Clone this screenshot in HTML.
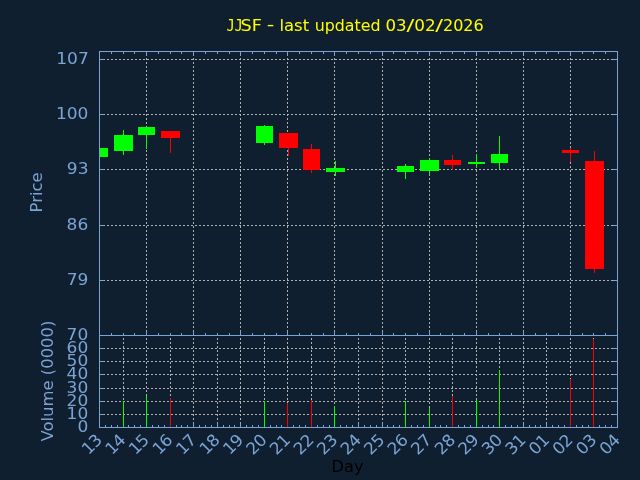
<!DOCTYPE html>
<html lang="en"><head><meta charset="utf-8"><title>JJSF - last updated 03/02/2026</title>
<style>html,body{margin:0;padding:0;background:#101f30;overflow:hidden}svg{display:block}text{font-family:"DejaVu Sans", "Liberation Sans", sans-serif;font-size:16.4px}</style></head><body>
<svg width="640" height="480" viewBox="0 0 640 480">
<rect x="0" y="0" width="640" height="480" fill="#101f30"/>
<g stroke="#b0b0b0" stroke-width="1" stroke-dasharray="2 2" shape-rendering="crispEdges" fill="none">
<line x1="99" y1="59.5" x2="617.5" y2="59.5"/>
<line x1="99" y1="114.5" x2="617.5" y2="114.5"/>
<line x1="99" y1="169.5" x2="617.5" y2="169.5"/>
<line x1="99" y1="225.5" x2="617.5" y2="225.5"/>
<line x1="99" y1="280.5" x2="617.5" y2="280.5"/>
<line x1="99" y1="348.5" x2="617.5" y2="348.5"/>
<line x1="99" y1="361.5" x2="617.5" y2="361.5"/>
<line x1="99" y1="374.5" x2="617.5" y2="374.5"/>
<line x1="99" y1="388.5" x2="617.5" y2="388.5"/>
<line x1="99" y1="401.5" x2="617.5" y2="401.5"/>
<line x1="99" y1="414.5" x2="617.5" y2="414.5"/>
<line x1="146.5" y1="336" x2="146.5" y2="51.5"/>
<line x1="193.5" y1="336" x2="193.5" y2="51.5"/>
<line x1="240.5" y1="336" x2="240.5" y2="51.5"/>
<line x1="287.5" y1="336" x2="287.5" y2="51.5"/>
<line x1="334.5" y1="336" x2="334.5" y2="51.5"/>
<line x1="382.5" y1="336" x2="382.5" y2="51.5"/>
<line x1="429.5" y1="336" x2="429.5" y2="51.5"/>
<line x1="476.5" y1="336" x2="476.5" y2="51.5"/>
<line x1="523.5" y1="336" x2="523.5" y2="51.5"/>
<line x1="570.5" y1="336" x2="570.5" y2="51.5"/>
<line x1="123.5" y1="428" x2="123.5" y2="335.5"/>
<line x1="146.5" y1="428" x2="146.5" y2="335.5"/>
<line x1="170.5" y1="428" x2="170.5" y2="335.5"/>
<line x1="193.5" y1="428" x2="193.5" y2="335.5"/>
<line x1="217.5" y1="428" x2="217.5" y2="335.5"/>
<line x1="240.5" y1="428" x2="240.5" y2="335.5"/>
<line x1="264.5" y1="428" x2="264.5" y2="335.5"/>
<line x1="287.5" y1="428" x2="287.5" y2="335.5"/>
<line x1="311.5" y1="428" x2="311.5" y2="335.5"/>
<line x1="334.5" y1="428" x2="334.5" y2="335.5"/>
<line x1="358.5" y1="428" x2="358.5" y2="335.5"/>
<line x1="382.5" y1="428" x2="382.5" y2="335.5"/>
<line x1="405.5" y1="428" x2="405.5" y2="335.5"/>
<line x1="429.5" y1="428" x2="429.5" y2="335.5"/>
<line x1="452.5" y1="428" x2="452.5" y2="335.5"/>
<line x1="476.5" y1="428" x2="476.5" y2="335.5"/>
<line x1="499.5" y1="428" x2="499.5" y2="335.5"/>
<line x1="523.5" y1="428" x2="523.5" y2="335.5"/>
<line x1="546.5" y1="428" x2="546.5" y2="335.5"/>
<line x1="570.5" y1="428" x2="570.5" y2="335.5"/>
<line x1="593.5" y1="428" x2="593.5" y2="335.5"/>
</g>
<g shape-rendering="crispEdges">
<rect x="100" y="148" width="8" height="9" fill="#00ff00"/>
<rect x="123" y="130" width="1" height="25" fill="#00ff00"/>
<rect x="114" y="135" width="19" height="16" fill="#00ff00"/>
<rect x="146" y="127" width="1" height="22" fill="#00ff00"/>
<rect x="138" y="127" width="17" height="8" fill="#00ff00"/>
<rect x="170" y="131" width="1" height="22" fill="#ff0000"/>
<rect x="161" y="131" width="19" height="7" fill="#ff0000"/>
<rect x="264" y="125" width="1" height="20" fill="#00ff00"/>
<rect x="256" y="126" width="17" height="17" fill="#00ff00"/>
<rect x="288" y="133" width="1" height="23" fill="#ff0000"/>
<rect x="279" y="133" width="19" height="15" fill="#ff0000"/>
<rect x="311" y="144" width="1" height="29" fill="#ff0000"/>
<rect x="303" y="149" width="17" height="21" fill="#ff0000"/>
<rect x="335" y="161" width="1" height="15" fill="#00ff00"/>
<rect x="326" y="168" width="19" height="4" fill="#00ff00"/>
<rect x="405" y="164" width="1" height="15" fill="#00ff00"/>
<rect x="397" y="166" width="17" height="6" fill="#00ff00"/>
<rect x="429" y="158" width="1" height="16" fill="#00ff00"/>
<rect x="420" y="160" width="19" height="11" fill="#00ff00"/>
<rect x="452" y="155" width="1" height="15" fill="#ff0000"/>
<rect x="444" y="160" width="17" height="5" fill="#ff0000"/>
<rect x="476" y="154" width="1" height="14" fill="#00ff00"/>
<rect x="468" y="162" width="17" height="2" fill="#00ff00"/>
<rect x="499" y="136" width="1" height="33" fill="#00ff00"/>
<rect x="491" y="154" width="17" height="9" fill="#00ff00"/>
<rect x="570" y="148" width="1" height="14" fill="#ff0000"/>
<rect x="562" y="150" width="17" height="3" fill="#ff0000"/>
<rect x="594" y="151" width="1" height="122" fill="#ff0000"/>
<rect x="585" y="161" width="19" height="108" fill="#ff0000"/>
</g>
<g stroke="#79a4d4" stroke-width="1" shape-rendering="crispEdges" fill="none">
<line x1="99.5" y1="59.5" x2="104" y2="59.5"/>
<line x1="613" y1="59.5" x2="617.5" y2="59.5"/>
<line x1="99.5" y1="114.5" x2="104" y2="114.5"/>
<line x1="613" y1="114.5" x2="617.5" y2="114.5"/>
<line x1="99.5" y1="169.5" x2="104" y2="169.5"/>
<line x1="613" y1="169.5" x2="617.5" y2="169.5"/>
<line x1="99.5" y1="225.5" x2="104" y2="225.5"/>
<line x1="613" y1="225.5" x2="617.5" y2="225.5"/>
<line x1="99.5" y1="280.5" x2="104" y2="280.5"/>
<line x1="613" y1="280.5" x2="617.5" y2="280.5"/>
<line x1="99.5" y1="348.5" x2="104" y2="348.5"/>
<line x1="613" y1="348.5" x2="617.5" y2="348.5"/>
<line x1="99.5" y1="361.5" x2="104" y2="361.5"/>
<line x1="613" y1="361.5" x2="617.5" y2="361.5"/>
<line x1="99.5" y1="374.5" x2="104" y2="374.5"/>
<line x1="613" y1="374.5" x2="617.5" y2="374.5"/>
<line x1="99.5" y1="388.5" x2="104" y2="388.5"/>
<line x1="613" y1="388.5" x2="617.5" y2="388.5"/>
<line x1="99.5" y1="401.5" x2="104" y2="401.5"/>
<line x1="613" y1="401.5" x2="617.5" y2="401.5"/>
<line x1="99.5" y1="414.5" x2="104" y2="414.5"/>
<line x1="613" y1="414.5" x2="617.5" y2="414.5"/>
<line x1="111.5" y1="51.5" x2="111.5" y2="54"/>
<line x1="111.5" y1="335.5" x2="111.5" y2="333"/>
<line x1="123.5" y1="51.5" x2="123.5" y2="54"/>
<line x1="123.5" y1="335.5" x2="123.5" y2="333"/>
<line x1="134.5" y1="51.5" x2="134.5" y2="54"/>
<line x1="134.5" y1="335.5" x2="134.5" y2="333"/>
<line x1="146.5" y1="51.5" x2="146.5" y2="56"/>
<line x1="146.5" y1="335.5" x2="146.5" y2="331"/>
<line x1="158.5" y1="51.5" x2="158.5" y2="54"/>
<line x1="158.5" y1="335.5" x2="158.5" y2="333"/>
<line x1="170.5" y1="51.5" x2="170.5" y2="54"/>
<line x1="170.5" y1="335.5" x2="170.5" y2="333"/>
<line x1="181.5" y1="51.5" x2="181.5" y2="54"/>
<line x1="181.5" y1="335.5" x2="181.5" y2="333"/>
<line x1="193.5" y1="51.5" x2="193.5" y2="56"/>
<line x1="193.5" y1="335.5" x2="193.5" y2="331"/>
<line x1="205.5" y1="51.5" x2="205.5" y2="54"/>
<line x1="205.5" y1="335.5" x2="205.5" y2="333"/>
<line x1="217.5" y1="51.5" x2="217.5" y2="54"/>
<line x1="217.5" y1="335.5" x2="217.5" y2="333"/>
<line x1="229.5" y1="51.5" x2="229.5" y2="54"/>
<line x1="229.5" y1="335.5" x2="229.5" y2="333"/>
<line x1="240.5" y1="51.5" x2="240.5" y2="56"/>
<line x1="240.5" y1="335.5" x2="240.5" y2="331"/>
<line x1="252.5" y1="51.5" x2="252.5" y2="54"/>
<line x1="252.5" y1="335.5" x2="252.5" y2="333"/>
<line x1="264.5" y1="51.5" x2="264.5" y2="54"/>
<line x1="264.5" y1="335.5" x2="264.5" y2="333"/>
<line x1="276.5" y1="51.5" x2="276.5" y2="54"/>
<line x1="276.5" y1="335.5" x2="276.5" y2="333"/>
<line x1="287.5" y1="51.5" x2="287.5" y2="56"/>
<line x1="287.5" y1="335.5" x2="287.5" y2="331"/>
<line x1="299.5" y1="51.5" x2="299.5" y2="54"/>
<line x1="299.5" y1="335.5" x2="299.5" y2="333"/>
<line x1="311.5" y1="51.5" x2="311.5" y2="54"/>
<line x1="311.5" y1="335.5" x2="311.5" y2="333"/>
<line x1="323.5" y1="51.5" x2="323.5" y2="54"/>
<line x1="323.5" y1="335.5" x2="323.5" y2="333"/>
<line x1="334.5" y1="51.5" x2="334.5" y2="56"/>
<line x1="334.5" y1="335.5" x2="334.5" y2="331"/>
<line x1="346.5" y1="51.5" x2="346.5" y2="54"/>
<line x1="346.5" y1="335.5" x2="346.5" y2="333"/>
<line x1="358.5" y1="51.5" x2="358.5" y2="54"/>
<line x1="358.5" y1="335.5" x2="358.5" y2="333"/>
<line x1="370.5" y1="51.5" x2="370.5" y2="54"/>
<line x1="370.5" y1="335.5" x2="370.5" y2="333"/>
<line x1="382.5" y1="51.5" x2="382.5" y2="56"/>
<line x1="382.5" y1="335.5" x2="382.5" y2="331"/>
<line x1="393.5" y1="51.5" x2="393.5" y2="54"/>
<line x1="393.5" y1="335.5" x2="393.5" y2="333"/>
<line x1="405.5" y1="51.5" x2="405.5" y2="54"/>
<line x1="405.5" y1="335.5" x2="405.5" y2="333"/>
<line x1="417.5" y1="51.5" x2="417.5" y2="54"/>
<line x1="417.5" y1="335.5" x2="417.5" y2="333"/>
<line x1="429.5" y1="51.5" x2="429.5" y2="56"/>
<line x1="429.5" y1="335.5" x2="429.5" y2="331"/>
<line x1="440.5" y1="51.5" x2="440.5" y2="54"/>
<line x1="440.5" y1="335.5" x2="440.5" y2="333"/>
<line x1="452.5" y1="51.5" x2="452.5" y2="54"/>
<line x1="452.5" y1="335.5" x2="452.5" y2="333"/>
<line x1="464.5" y1="51.5" x2="464.5" y2="54"/>
<line x1="464.5" y1="335.5" x2="464.5" y2="333"/>
<line x1="476.5" y1="51.5" x2="476.5" y2="56"/>
<line x1="476.5" y1="335.5" x2="476.5" y2="331"/>
<line x1="488.5" y1="51.5" x2="488.5" y2="54"/>
<line x1="488.5" y1="335.5" x2="488.5" y2="333"/>
<line x1="499.5" y1="51.5" x2="499.5" y2="54"/>
<line x1="499.5" y1="335.5" x2="499.5" y2="333"/>
<line x1="511.5" y1="51.5" x2="511.5" y2="54"/>
<line x1="511.5" y1="335.5" x2="511.5" y2="333"/>
<line x1="523.5" y1="51.5" x2="523.5" y2="56"/>
<line x1="523.5" y1="335.5" x2="523.5" y2="331"/>
<line x1="535.5" y1="51.5" x2="535.5" y2="54"/>
<line x1="535.5" y1="335.5" x2="535.5" y2="333"/>
<line x1="546.5" y1="51.5" x2="546.5" y2="54"/>
<line x1="546.5" y1="335.5" x2="546.5" y2="333"/>
<line x1="558.5" y1="51.5" x2="558.5" y2="54"/>
<line x1="558.5" y1="335.5" x2="558.5" y2="333"/>
<line x1="570.5" y1="51.5" x2="570.5" y2="56"/>
<line x1="570.5" y1="335.5" x2="570.5" y2="331"/>
<line x1="582.5" y1="51.5" x2="582.5" y2="54"/>
<line x1="582.5" y1="335.5" x2="582.5" y2="333"/>
<line x1="593.5" y1="51.5" x2="593.5" y2="54"/>
<line x1="593.5" y1="335.5" x2="593.5" y2="333"/>
<line x1="605.5" y1="51.5" x2="605.5" y2="54"/>
<line x1="605.5" y1="335.5" x2="605.5" y2="333"/>
<line x1="105.5" y1="427.5" x2="105.5" y2="425"/>
<line x1="111.5" y1="427.5" x2="111.5" y2="425"/>
<line x1="117.5" y1="427.5" x2="117.5" y2="425"/>
<line x1="123.5" y1="427.5" x2="123.5" y2="423"/>
<line x1="128.5" y1="427.5" x2="128.5" y2="425"/>
<line x1="134.5" y1="427.5" x2="134.5" y2="425"/>
<line x1="140.5" y1="427.5" x2="140.5" y2="425"/>
<line x1="146.5" y1="427.5" x2="146.5" y2="423"/>
<line x1="152.5" y1="427.5" x2="152.5" y2="425"/>
<line x1="158.5" y1="427.5" x2="158.5" y2="425"/>
<line x1="164.5" y1="427.5" x2="164.5" y2="425"/>
<line x1="170.5" y1="427.5" x2="170.5" y2="423"/>
<line x1="176.5" y1="427.5" x2="176.5" y2="425"/>
<line x1="181.5" y1="427.5" x2="181.5" y2="425"/>
<line x1="187.5" y1="427.5" x2="187.5" y2="425"/>
<line x1="193.5" y1="427.5" x2="193.5" y2="423"/>
<line x1="199.5" y1="427.5" x2="199.5" y2="425"/>
<line x1="205.5" y1="427.5" x2="205.5" y2="425"/>
<line x1="211.5" y1="427.5" x2="211.5" y2="425"/>
<line x1="217.5" y1="427.5" x2="217.5" y2="423"/>
<line x1="223.5" y1="427.5" x2="223.5" y2="425"/>
<line x1="229.5" y1="427.5" x2="229.5" y2="425"/>
<line x1="234.5" y1="427.5" x2="234.5" y2="425"/>
<line x1="240.5" y1="427.5" x2="240.5" y2="423"/>
<line x1="246.5" y1="427.5" x2="246.5" y2="425"/>
<line x1="252.5" y1="427.5" x2="252.5" y2="425"/>
<line x1="258.5" y1="427.5" x2="258.5" y2="425"/>
<line x1="264.5" y1="427.5" x2="264.5" y2="423"/>
<line x1="270.5" y1="427.5" x2="270.5" y2="425"/>
<line x1="276.5" y1="427.5" x2="276.5" y2="425"/>
<line x1="281.5" y1="427.5" x2="281.5" y2="425"/>
<line x1="287.5" y1="427.5" x2="287.5" y2="423"/>
<line x1="293.5" y1="427.5" x2="293.5" y2="425"/>
<line x1="299.5" y1="427.5" x2="299.5" y2="425"/>
<line x1="305.5" y1="427.5" x2="305.5" y2="425"/>
<line x1="311.5" y1="427.5" x2="311.5" y2="423"/>
<line x1="317.5" y1="427.5" x2="317.5" y2="425"/>
<line x1="323.5" y1="427.5" x2="323.5" y2="425"/>
<line x1="329.5" y1="427.5" x2="329.5" y2="425"/>
<line x1="334.5" y1="427.5" x2="334.5" y2="423"/>
<line x1="340.5" y1="427.5" x2="340.5" y2="425"/>
<line x1="346.5" y1="427.5" x2="346.5" y2="425"/>
<line x1="352.5" y1="427.5" x2="352.5" y2="425"/>
<line x1="358.5" y1="427.5" x2="358.5" y2="423"/>
<line x1="364.5" y1="427.5" x2="364.5" y2="425"/>
<line x1="370.5" y1="427.5" x2="370.5" y2="425"/>
<line x1="376.5" y1="427.5" x2="376.5" y2="425"/>
<line x1="382.5" y1="427.5" x2="382.5" y2="423"/>
<line x1="387.5" y1="427.5" x2="387.5" y2="425"/>
<line x1="393.5" y1="427.5" x2="393.5" y2="425"/>
<line x1="399.5" y1="427.5" x2="399.5" y2="425"/>
<line x1="405.5" y1="427.5" x2="405.5" y2="423"/>
<line x1="411.5" y1="427.5" x2="411.5" y2="425"/>
<line x1="417.5" y1="427.5" x2="417.5" y2="425"/>
<line x1="423.5" y1="427.5" x2="423.5" y2="425"/>
<line x1="429.5" y1="427.5" x2="429.5" y2="423"/>
<line x1="435.5" y1="427.5" x2="435.5" y2="425"/>
<line x1="440.5" y1="427.5" x2="440.5" y2="425"/>
<line x1="446.5" y1="427.5" x2="446.5" y2="425"/>
<line x1="452.5" y1="427.5" x2="452.5" y2="423"/>
<line x1="458.5" y1="427.5" x2="458.5" y2="425"/>
<line x1="464.5" y1="427.5" x2="464.5" y2="425"/>
<line x1="470.5" y1="427.5" x2="470.5" y2="425"/>
<line x1="476.5" y1="427.5" x2="476.5" y2="423"/>
<line x1="482.5" y1="427.5" x2="482.5" y2="425"/>
<line x1="488.5" y1="427.5" x2="488.5" y2="425"/>
<line x1="493.5" y1="427.5" x2="493.5" y2="425"/>
<line x1="499.5" y1="427.5" x2="499.5" y2="423"/>
<line x1="505.5" y1="427.5" x2="505.5" y2="425"/>
<line x1="511.5" y1="427.5" x2="511.5" y2="425"/>
<line x1="517.5" y1="427.5" x2="517.5" y2="425"/>
<line x1="523.5" y1="427.5" x2="523.5" y2="423"/>
<line x1="529.5" y1="427.5" x2="529.5" y2="425"/>
<line x1="535.5" y1="427.5" x2="535.5" y2="425"/>
<line x1="540.5" y1="427.5" x2="540.5" y2="425"/>
<line x1="546.5" y1="427.5" x2="546.5" y2="423"/>
<line x1="552.5" y1="427.5" x2="552.5" y2="425"/>
<line x1="558.5" y1="427.5" x2="558.5" y2="425"/>
<line x1="564.5" y1="427.5" x2="564.5" y2="425"/>
<line x1="570.5" y1="427.5" x2="570.5" y2="423"/>
<line x1="576.5" y1="427.5" x2="576.5" y2="425"/>
<line x1="582.5" y1="427.5" x2="582.5" y2="425"/>
<line x1="588.5" y1="427.5" x2="588.5" y2="425"/>
<line x1="593.5" y1="427.5" x2="593.5" y2="423"/>
<line x1="599.5" y1="427.5" x2="599.5" y2="425"/>
<line x1="605.5" y1="427.5" x2="605.5" y2="425"/>
<line x1="611.5" y1="427.5" x2="611.5" y2="425"/>
</g>
<g shape-rendering="crispEdges">
<rect x="123" y="401" width="1" height="26" fill="#00ff00"/>
<rect x="146" y="396" width="1" height="31" fill="#00ff00"/>
<rect x="170" y="398" width="1" height="29" fill="#ff0000"/>
<rect x="264" y="401" width="1" height="26" fill="#00ff00"/>
<rect x="287" y="403" width="1" height="24" fill="#ff0000"/>
<rect x="311" y="400" width="1" height="27" fill="#ff0000"/>
<rect x="334" y="406" width="1" height="21" fill="#00ff00"/>
<rect x="405" y="401" width="1" height="26" fill="#00ff00"/>
<rect x="429" y="408" width="1" height="19" fill="#00ff00"/>
<rect x="452" y="396" width="1" height="31" fill="#ff0000"/>
<rect x="476" y="400" width="1" height="27" fill="#00ff00"/>
<rect x="499" y="370" width="1" height="57" fill="#00ff00"/>
<rect x="570" y="379" width="1" height="48" fill="#ff0000"/>
<rect x="593" y="339" width="1" height="88" fill="#ff0000"/>
</g>
<g stroke="#79a4d4" stroke-width="1" shape-rendering="crispEdges" fill="none">
<rect x="99.5" y="51.5" width="518" height="284"/>
<rect x="99.5" y="335.5" width="518" height="92"/>
</g>
<g fill="#79a4d4">
<text x="56.21" y="64" textLength="32.55" lengthAdjust="spacingAndGlyphs">107</text>
<text x="55.93" y="119" textLength="32.55" lengthAdjust="spacingAndGlyphs">100</text>
<text x="66.8" y="174" textLength="21.69" lengthAdjust="spacingAndGlyphs">93</text>
<text x="66.56" y="230" textLength="21.69" lengthAdjust="spacingAndGlyphs">86</text>
<text x="66.65" y="285" textLength="21.69" lengthAdjust="spacingAndGlyphs">79</text>
<text x="66.58" y="340" textLength="21.69" lengthAdjust="spacingAndGlyphs">70</text>
<text x="66.58" y="353" textLength="21.69" lengthAdjust="spacingAndGlyphs">60</text>
<text x="66.58" y="366" textLength="21.69" lengthAdjust="spacingAndGlyphs">50</text>
<text x="66.58" y="379" textLength="21.69" lengthAdjust="spacingAndGlyphs">40</text>
<text x="66.58" y="393" textLength="21.69" lengthAdjust="spacingAndGlyphs">30</text>
<text x="66.58" y="406" textLength="21.69" lengthAdjust="spacingAndGlyphs">20</text>
<text x="66.58" y="419" textLength="21.69" lengthAdjust="spacingAndGlyphs">10</text>
<text x="77.47" y="432" textLength="10.86" lengthAdjust="spacingAndGlyphs">0</text>
<g transform="translate(42.4,210.9) rotate(-90)"><text x="-1.55" y="0" textLength="40.08" lengthAdjust="spacingAndGlyphs">Price</text></g>
<g transform="translate(53,441.3) rotate(-90)"><text x="-0.27" y="0" textLength="121" lengthAdjust="spacingAndGlyphs">Volume (0000)</text></g>
<g transform="translate(87.78,456.22) rotate(-45) scale(1.04,1)"><text x="1.01 10.43" y="0">13</text></g>
<g transform="translate(111.33,456.22) rotate(-45) scale(1.04,1)"><text x="1.01 10.43" y="0">14</text></g>
<g transform="translate(134.87,456.22) rotate(-45) scale(1.04,1)"><text x="1.01 10.43" y="0">15</text></g>
<g transform="translate(158.42,456.22) rotate(-45) scale(1.04,1)"><text x="1.01 10.43" y="0">16</text></g>
<g transform="translate(181.96,456.22) rotate(-45) scale(1.04,1)"><text x="1.01 10.43" y="0">17</text></g>
<g transform="translate(205.51,456.22) rotate(-45) scale(1.04,1)"><text x="1.01 10.43" y="0">18</text></g>
<g transform="translate(229.05,456.22) rotate(-45) scale(1.04,1)"><text x="1.01 10.43" y="0">19</text></g>
<g transform="translate(252.6,456.22) rotate(-45) scale(1.04,1)"><text x="0.62 10.43" y="0">20</text></g>
<g transform="translate(276.14,456.22) rotate(-45) scale(1.04,1)"><text x="0.62 10.43" y="0">21</text></g>
<g transform="translate(299.69,456.22) rotate(-45) scale(1.04,1)"><text x="0.62 10.43" y="0">22</text></g>
<g transform="translate(323.23,456.22) rotate(-45) scale(1.04,1)"><text x="0.62 10.43" y="0">23</text></g>
<g transform="translate(346.78,456.22) rotate(-45) scale(1.04,1)"><text x="0.62 10.43" y="0">24</text></g>
<g transform="translate(370.33,456.22) rotate(-45) scale(1.04,1)"><text x="0.62 10.43" y="0">25</text></g>
<g transform="translate(393.87,456.22) rotate(-45) scale(1.04,1)"><text x="0.62 10.43" y="0">26</text></g>
<g transform="translate(417.42,456.22) rotate(-45) scale(1.04,1)"><text x="0.62 10.43" y="0">27</text></g>
<g transform="translate(440.96,456.22) rotate(-45) scale(1.04,1)"><text x="0.62 10.43" y="0">28</text></g>
<g transform="translate(464.51,456.22) rotate(-45) scale(1.04,1)"><text x="0.62 10.43" y="0">29</text></g>
<g transform="translate(488.05,456.22) rotate(-45) scale(1.04,1)"><text x="0.62 10.43" y="0">30</text></g>
<g transform="translate(511.6,456.22) rotate(-45) scale(1.04,1)"><text x="0.62 10.43" y="0">31</text></g>
<g transform="translate(535.14,456.22) rotate(-45) scale(1.04,1)"><text x="0.62 10.43" y="0">01</text></g>
<g transform="translate(558.69,456.22) rotate(-45) scale(1.04,1)"><text x="0.62 10.43" y="0">02</text></g>
<g transform="translate(582.23,456.22) rotate(-45) scale(1.04,1)"><text x="0.62 10.43" y="0">03</text></g>
<g transform="translate(605.78,456.22) rotate(-45) scale(1.04,1)"><text x="0.62 10.43" y="0">04</text></g>
</g>
<text y="31" fill="#ffff00" xml:space="preserve"><tspan x="226.41" textLength="16.38" lengthAdjust="spacingAndGlyphs" style='font-family:"DejaVu Sans Mono", "Liberation Mono", monospace'>JJ</tspan><tspan x="240.6" textLength="21.33" lengthAdjust="spacingAndGlyphs">SF</tspan> <tspan x="266.8" textLength="7.59" lengthAdjust="spacingAndGlyphs" dy="-1">-</tspan> <tspan x="279.4" textLength="29.73" lengthAdjust="spacingAndGlyphs" dy="1">last</tspan> <tspan x="314.71" textLength="65.78" lengthAdjust="spacingAndGlyphs">updated</tspan> <tspan x="385.47" textLength="21.19" lengthAdjust="spacingAndGlyphs">03</tspan><tspan x="406.42" textLength="7.86" lengthAdjust="spacingAndGlyphs">/</tspan><tspan x="414.26" textLength="21.39" lengthAdjust="spacingAndGlyphs">02</tspan><tspan x="435.22" textLength="7.86" lengthAdjust="spacingAndGlyphs">/</tspan><tspan x="442.95" textLength="40.88" lengthAdjust="spacingAndGlyphs">2026</tspan></text>
<g fill="#000000"><text x="331.58" y="471.5" textLength="31.89" lengthAdjust="spacingAndGlyphs">Day</text></g>
</svg></body></html>
